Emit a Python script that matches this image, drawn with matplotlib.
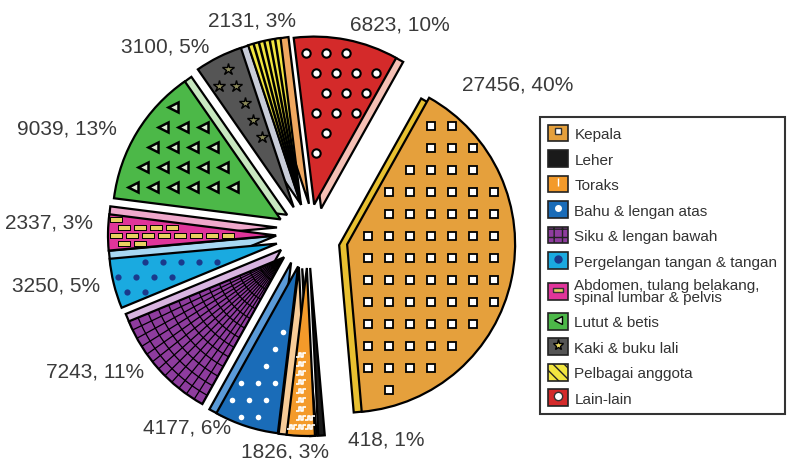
import numpy as np
import matplotlib.pyplot as plt
from matplotlib.patches import Patch, Wedge
from matplotlib.lines import Line2D
from matplotlib.path import Path

plt.rcParams['font.family'] = ['Liberation Sans', 'DejaVu Sans']

# data
bagian = ['Kepala', 'Leher', 'Toraks', 'Bahu & lengan atas', 'Siku & lengan bawah',
          'Pergelangan tangan & tangan',
          'Abdomen, tulang belakang,\nspinal lumbar & pelvis',
          'Lutut & betis', 'Kaki & buku lali', 'Pelbagai anggota', 'Lain-lain']
kes = [27456, 418, 1826, 4177, 7243, 3250, 2337, 9039, 3100, 2131, 6823]

# style
warna = ['#E5A03C', '#1A1A1A', '#F39A2A', '#1A6CB8', '#8E3C9E', '#1AAAE0',
         '#E0359A', '#4CB848', '#555555', '#F2E640', '#D42A2A']
warna_sisi = ['#E8C030', '#D0D4D8', '#F8CC98', '#5A9AD8', '#D8B4E0', '#A8D8F2',
              '#F0A8CC', '#C8E8C0', '#C8CCD8', '#F0A860', '#F5C0B5']
explode = [40, 32, 32, 32, 32, 32, 32, 32, 32, 32, 32]   # pixels
# label centres in pixels (x, y from top)
pos_label = [(518, 85), (386, 440), (285, 452), (187, 428), (95, 372), (56, 286),
             (49, 223), (67, 129), (165, 47), (252, 21), (400, 25)]

W, H = 789, 460
CX, CY, R = 308, 460 - 237, 168

total = sum(kes)
start = 97 - 360 * kes[-1] / total

fig = plt.figure(figsize=(W / 100, H / 100), dpi=100)
ax = fig.add_axes([0, 0, 1, 1])

wedges, _ = ax.pie(kes, explode=explode, colors=warna, startangle=start,
                   counterclock=False, radius=R, center=(CX, CY), frame=True,
                   wedgeprops=dict(edgecolor='black', linewidth=1.6, zorder=2))

# side faces (fake 3d thickness)
tebal = 8
for w, cs in zip(wedges, warna_sisi):
    arah = np.radians(w.theta1 - 90)
    x0, y0 = w.center
    side = Wedge((x0 + tebal * np.cos(arah), y0 + tebal * np.sin(arah)),
                 w.r, w.theta1, w.theta2, facecolor=cs,
                 edgecolor='black', linewidth=1.6, zorder=1)
    ax.add_patch(side)


def isi_pola(w, marker, ms, fc, ec, mew, dx, dy, stagger, margin):
    cx, cy = w.center
    xs = np.arange(cx - w.r, cx + w.r, dx)
    ys = np.arange(cy - w.r, cy + w.r, dy)
    X, Y = np.meshgrid(xs, ys)
    if stagger:
        X[1::2] += dx / 2
    X, Y = X.ravel(), Y.ravel()
    rr = np.hypot(X - cx, Y - cy)
    a = (np.degrees(np.arctan2(Y - cy, X - cx)) - w.theta1) % 360
    span = w.theta2 - w.theta1
    ok = ((a < span) & (rr < w.r - margin)
          & (rr * np.sin(np.radians(a)) > margin)
          & (rr * np.sin(np.radians(span - a)) > margin))
    ax.plot(X[ok], Y[ok], ls='', marker=marker, ms=ms, mfc=fc, mec=ec, mew=mew, zorder=3)


kotak = [(-1, -0.45), (1, -0.45), (1, 0.45), (-1, 0.45), (-1, -0.45)]
zigzag = Path([(-1, -0.5), (-0.5, -0.5), (-0.5, 0.5), (0, 0.5), (0, -0.5),
               (0.5, -0.5), (0.5, 0.5), (1, 0.5)])

isi_pola(wedges[0], 's', 5.5, 'white', 'black', 1.3, 21, 22, False, 9)
isi_pola(wedges[2], zigzag, 7, 'none', 'white', 1.2, 9, 9, False, 4)
isi_pola(wedges[3], 'o', 4, 'white', 'none', 0, 17, 17, True, 6)
isi_pola(wedges[5], 'o', 4.5, '#1A3A8C', 'none', 0, 18, 15, True, 5)
isi_pola(wedges[6], kotak, 8, '#E8D060', 'black', 0.7, 16, 8, True, 4)
isi_pola(wedges[7], '<', 7, '#D8ECD0', 'black', 1.8, 20, 20, True, 9)
isi_pola(wedges[8], '*', 9, '#8C8A5A', 'black', 1.0, 17, 17, True, 7)
isi_pola(wedges[10], 'o', 6, 'white', 'black', 1.5, 20, 20, True, 8)

# siku: polar grid
w = wedges[4]
cx, cy = w.center
for t in np.arange(w.theta1, w.theta2, 3.2):
    ln, = ax.plot([cx, cx + w.r * np.cos(np.radians(t))], [cy, cy + w.r * np.sin(np.radians(t))],
                  color='black', lw=0.9, zorder=3)
    ln.set_clip_path(w)
tt = np.radians(np.linspace(w.theta1, w.theta2, 50))
for rad in np.arange(15, w.r, 11):
    ln, = ax.plot(cx + rad * np.cos(tt), cy + rad * np.sin(tt), color='black', lw=0.9, zorder=3)
    ln.set_clip_path(w)

# pelbagai: radial stripes
w = wedges[9]
cx, cy = w.center
for t in np.linspace(w.theta1, w.theta2, 7)[1:-1]:
    ln, = ax.plot([cx, cx + w.r * np.cos(np.radians(t))], [cy, cy + w.r * np.sin(np.radians(t))],
                  color='black', lw=1.8, zorder=3)
    ln.set_clip_path(w)

# labels
for v, (lx, ly) in zip(kes, pos_label):
    ax.text(lx, H - ly, f'{v}, {round(100 * v / total)}%', ha='center', va='center',
            fontsize=15, color='#3A3A3A')

# legend
tanda = [('s', 4, 'white', '#333'), None, ('|', 6, 'white', 'white'), ('o', 4, 'white', 'white'),
         None, ('o', 5, '#1A3A8C', '#1A3A8C'), (kotak, 7, '#E8D060', '#333'),
         ('<', 6, '#D8ECD0', 'black'), ('*', 8, '#E8D860', 'black'), None, ('o', 6, 'white', '#333')]
hatch = [None, None, None, None, '++', None, None, None, None, '\\\\\\', None]
handles = []
for i in range(len(bagian)):
    p = Patch(facecolor=warna[i], edgecolor='#222222', linewidth=1.2, hatch=hatch[i])
    if tanda[i] is None:
        handles.append(p)
    else:
        m, ms, fc, ec = tanda[i]
        handles.append((p, Line2D([0], [0], ls='', marker=m, ms=ms, mfc=fc, mec=ec, mew=1)))

leg = ax.legend(handles, bagian, loc='upper left', bbox_to_anchor=(540 / W, 1 - 118 / H),
                bbox_transform=fig.transFigure, borderaxespad=0, fontsize=11,
                frameon=True, fancybox=False, edgecolor='#333333', framealpha=1,
                handlelength=1.3, handleheight=1.3, handletextpad=0.45,
                labelspacing=0.58, borderpad=0.5)
leg.get_frame().set_linewidth(1.5)
for t in leg.get_texts():
    t.set_color('#333333')
leg.get_texts()[6].set_linespacing(0.85)

ax.set_xlim(0, W)
ax.set_ylim(0, H)
ax.set_aspect('equal')
ax.axis('off')

fig.savefig('out.png', dpi=100)
